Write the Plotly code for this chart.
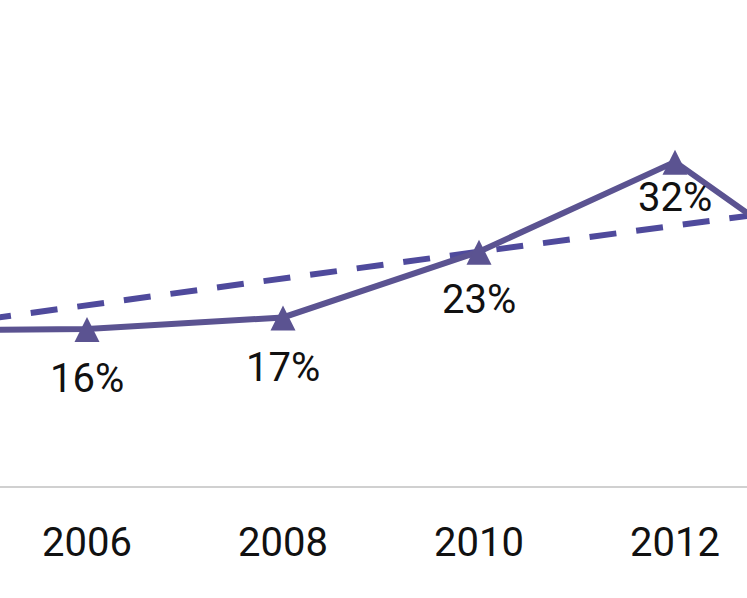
import plotly.graph_objects as go

years = [2004, 2006, 2008, 2010, 2012, 2014]
share = [15.8, 16.0, 17.1, 23.4, 32.0, 18.7]
trend = [15.7, 18.3, 20.8, 23.4, 25.9, 28.4]
tick_years = [2006, 2008, 2010, 2012]

line_col = "#5b5391"
trend_col = "#4f4a9c"

fig = go.Figure()

fig.add_trace(go.Scatter(
    x=years, y=trend, mode="lines",
    line=dict(color=trend_col, width=6, dash="27px,20px"),
    hoverinfo="skip",
))

fig.add_trace(go.Scatter(
    x=years, y=share, mode="lines+markers",
    line=dict(color=line_col, width=6),
    marker=dict(symbol="arrow-down", angle=180, standoff=12, size=25, color=line_col),
))

# labels under the points
shifts = [-50, -50, -50, -48, -36, -50]
for yr, v, s in zip(years, share, shifts):
    fig.add_annotation(x=yr, y=v, text=f"{v:.0f}%", showarrow=False,
                       yshift=s, font=dict(size=40, color="#111111"))

fig.update_layout(
    width=747, height=598,
    margin=dict(l=0, r=0, t=0, b=112),
    paper_bgcolor="white", plot_bgcolor="white",
    showlegend=False,
    font=dict(family="Roboto, Arial, sans-serif"),
)
fig.update_xaxes(
    range=[2005.112, 2012.735],
    tickvals=tick_years, ticktext=[str(y) for y in tick_years],
    tickfont=dict(size=40, color="#111111"),
    showgrid=False, zeroline=False, ticks="",
    showline=True, linecolor="#d0d0d0", linewidth=2,
    ticklabelstandoff=20,
)
fig.update_yaxes(range=[0.96, 47.5], visible=False)

# drop the default page margin so the figure sits at the window corner
fig.write_html("out.html", config={"displayModeBar": False},
               post_script="document.body.style.margin='0';document.body.style.overflow='hidden';")
